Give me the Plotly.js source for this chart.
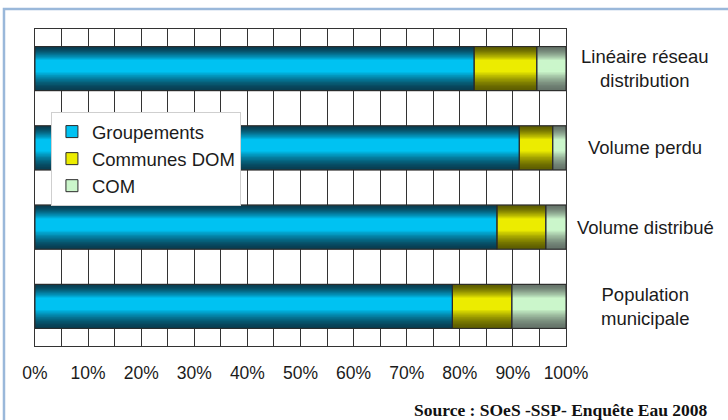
<!DOCTYPE html>
<html>
<head>
<meta charset="utf-8">
<script src="https://cdn.plot.ly/plotly-3.0.1.min.js"></script>
<style>
  html, body { margin: 0; padding: 0; background: #ffffff; }
  #chart { width: 728px; height: 420px; }
</style>
</head>
<body>
<div id="chart"></div>
<script>
// Répartition (%) par type de collectivité
const categories = ['Linéaire réseau<br>distribution', 'Volume perdu', 'Volume distribué', 'Population<br>municipale'];
const groupements = [82.7, 91.2, 87.0, 78.6];
const communesDom = [11.8, 6.3, 9.2, 11.2];
const com = [5.5, 2.5, 3.8, 10.2];
const seriesNames = ['Groupements', 'Communes DOM', 'COM'];
const tickVals = [0, 10, 20, 30, 40, 50, 60, 70, 80, 90, 100];
const tickText = ['0%', '10%', '20%', '30%', '40%', '50%', '60%', '70%', '80%', '90%', '100%'];
const sourceText = 'Source : SOeS -SSP- Enquête Eau 2008';

// Shading: [edge colour, centre colour] for each series
const shades = [
  ['#083E52', '#00C2F2'],
  ['#5E5E00', '#ECEC00'],
  ['#66746A', '#CBF6CB']
];

const values = [groupements, communesDom, com];
const BAR_W = 0.555;    // bar thickness in category units
const LAYERS = 18;      // layers used for the cylinder-like shading
const LIGHT_POS = 0.42; // brightest band, fraction from the top of a bar
const LINE = '#2a2a2a';
const TEXT = '#1b1b1b';
const SANS = 'Liberation Sans, Arial, sans-serif';

function hexToRgb(h) {
  const n = parseInt(h.slice(1), 16);
  return [(n >> 16) & 255, (n >> 8) & 255, n & 255];
}
function mix(a, b, s) {
  const A = hexToRgb(a), B = hexToRgb(b);
  return 'rgb(' + A.map((v, i) => Math.round(v + (B[i] - v) * s)).join(',') + ')';
}

// start of each segment = sum of the segments before it
const bases = values.map((vals, si) =>
  vals.map((_, ci) => values.slice(0, si).reduce((acc, arr) => acc + arr[ci], 0))
);

const traces = [];

// legend entries (fully covered by the shaded layers drawn above them)
values.forEach((vals, si) => {
  traces.push({
    type: 'bar', orientation: 'h', name: seriesNames[si],
    y: categories, x: vals, base: bases[si],
    width: BAR_W, offset: -BAR_W / 2,
    marker: { color: shades[si][1], line: { color: LINE, width: 1 } },
    hoverinfo: 'skip', showlegend: true
  });
});

// shaded layers, each one narrower and lighter than the one below
values.forEach((vals, si) => {
  for (let k = 0; k < LAYERS; k++) {
    const t = k / LAYERS;
    const s = Math.pow(Math.min(1, t / 0.72), 1.5);
    traces.push({
      type: 'bar', orientation: 'h', name: seriesNames[si],
      y: categories, x: vals, base: bases[si],
      width: BAR_W * (1 - t),
      offset: -BAR_W / 2 + LIGHT_POS * t * BAR_W,
      marker: { color: mix(shades[si][0], shades[si][1], s), line: { width: 0 } },
      hoverinfo: 'skip', showlegend: false
    });
  }
});

// segment outlines
values.forEach((vals, si) => {
  traces.push({
    type: 'bar', orientation: 'h', name: seriesNames[si],
    y: categories, x: vals, base: bases[si],
    width: BAR_W, offset: -BAR_W / 2,
    marker: { color: 'rgba(0,0,0,0)', line: { color: LINE, width: 1 } },
    showlegend: false
  });
});

// category labels to the right of the plot
const annotations = categories.map(c => ({
  xref: 'paper', yref: 'y', x: 1.149, y: c,
  text: c, showarrow: false, xanchor: 'center', yanchor: 'middle', align: 'center',
  font: { family: SANS, size: 18.5, color: TEXT }
}));
annotations.push({
  xref: 'paper', yref: 'paper', x: 1.272, y: -0.202,
  text: '<b>' + sourceText + '</b>', showarrow: false, xanchor: 'right', yanchor: 'middle',
  font: { family: 'Liberation Serif, Times New Roman, serif', size: 17.5, color: '#111111' }
});

const layout = {
  width: 728, height: 420,
  margin: { l: 35, r: 162, t: 29, b: 74, pad: 0 },
  paper_bgcolor: '#ffffff', plot_bgcolor: '#ffffff',
  barmode: 'overlay',
  showlegend: true,
  legend: {
    x: 0.03, y: 0.738, xanchor: 'left', yanchor: 'top',
    bgcolor: '#ffffff', bordercolor: '#cfcfcf', borderwidth: 1,
    font: { family: SANS, size: 18.5, color: TEXT },
    traceorder: 'normal'
  },
  xaxis: {
    range: [0, 100], tickmode: 'array', tickvals: tickVals, ticktext: tickText,
    showgrid: true, gridcolor: '#333333', gridwidth: 1,
    minor: { tick0: 0, dtick: 5, showgrid: true, gridcolor: '#333333', gridwidth: 1 },
    zeroline: false, showline: true, mirror: true, linecolor: '#333333', linewidth: 1,
    ticks: 'outside', ticklen: 11, tickcolor: 'rgba(0,0,0,0)',
    tickfont: { family: SANS, size: 17.5, color: TEXT },
    fixedrange: true
  },
  yaxis: {
    type: 'category', categoryorder: 'array', categoryarray: categories,
    range: [3.5, -0.5],
    showgrid: false, zeroline: false, showticklabels: false,
    showline: true, mirror: true, linecolor: '#333333', linewidth: 1,
    fixedrange: true
  },
  annotations: annotations,
  shapes: [{
    type: 'rect', xref: 'paper', yref: 'paper',
    x0: -0.0584, x1: 1.35, y0: -0.32, y1: 1.063,
    line: { color: '#9AB8DA', width: 2.5 }, fillcolor: 'rgba(0,0,0,0)', layer: 'below'
  }]
};

Plotly.newPlot('chart', traces, layout, { displayModeBar: false, staticPlot: true });
</script>
</body>
</html>
